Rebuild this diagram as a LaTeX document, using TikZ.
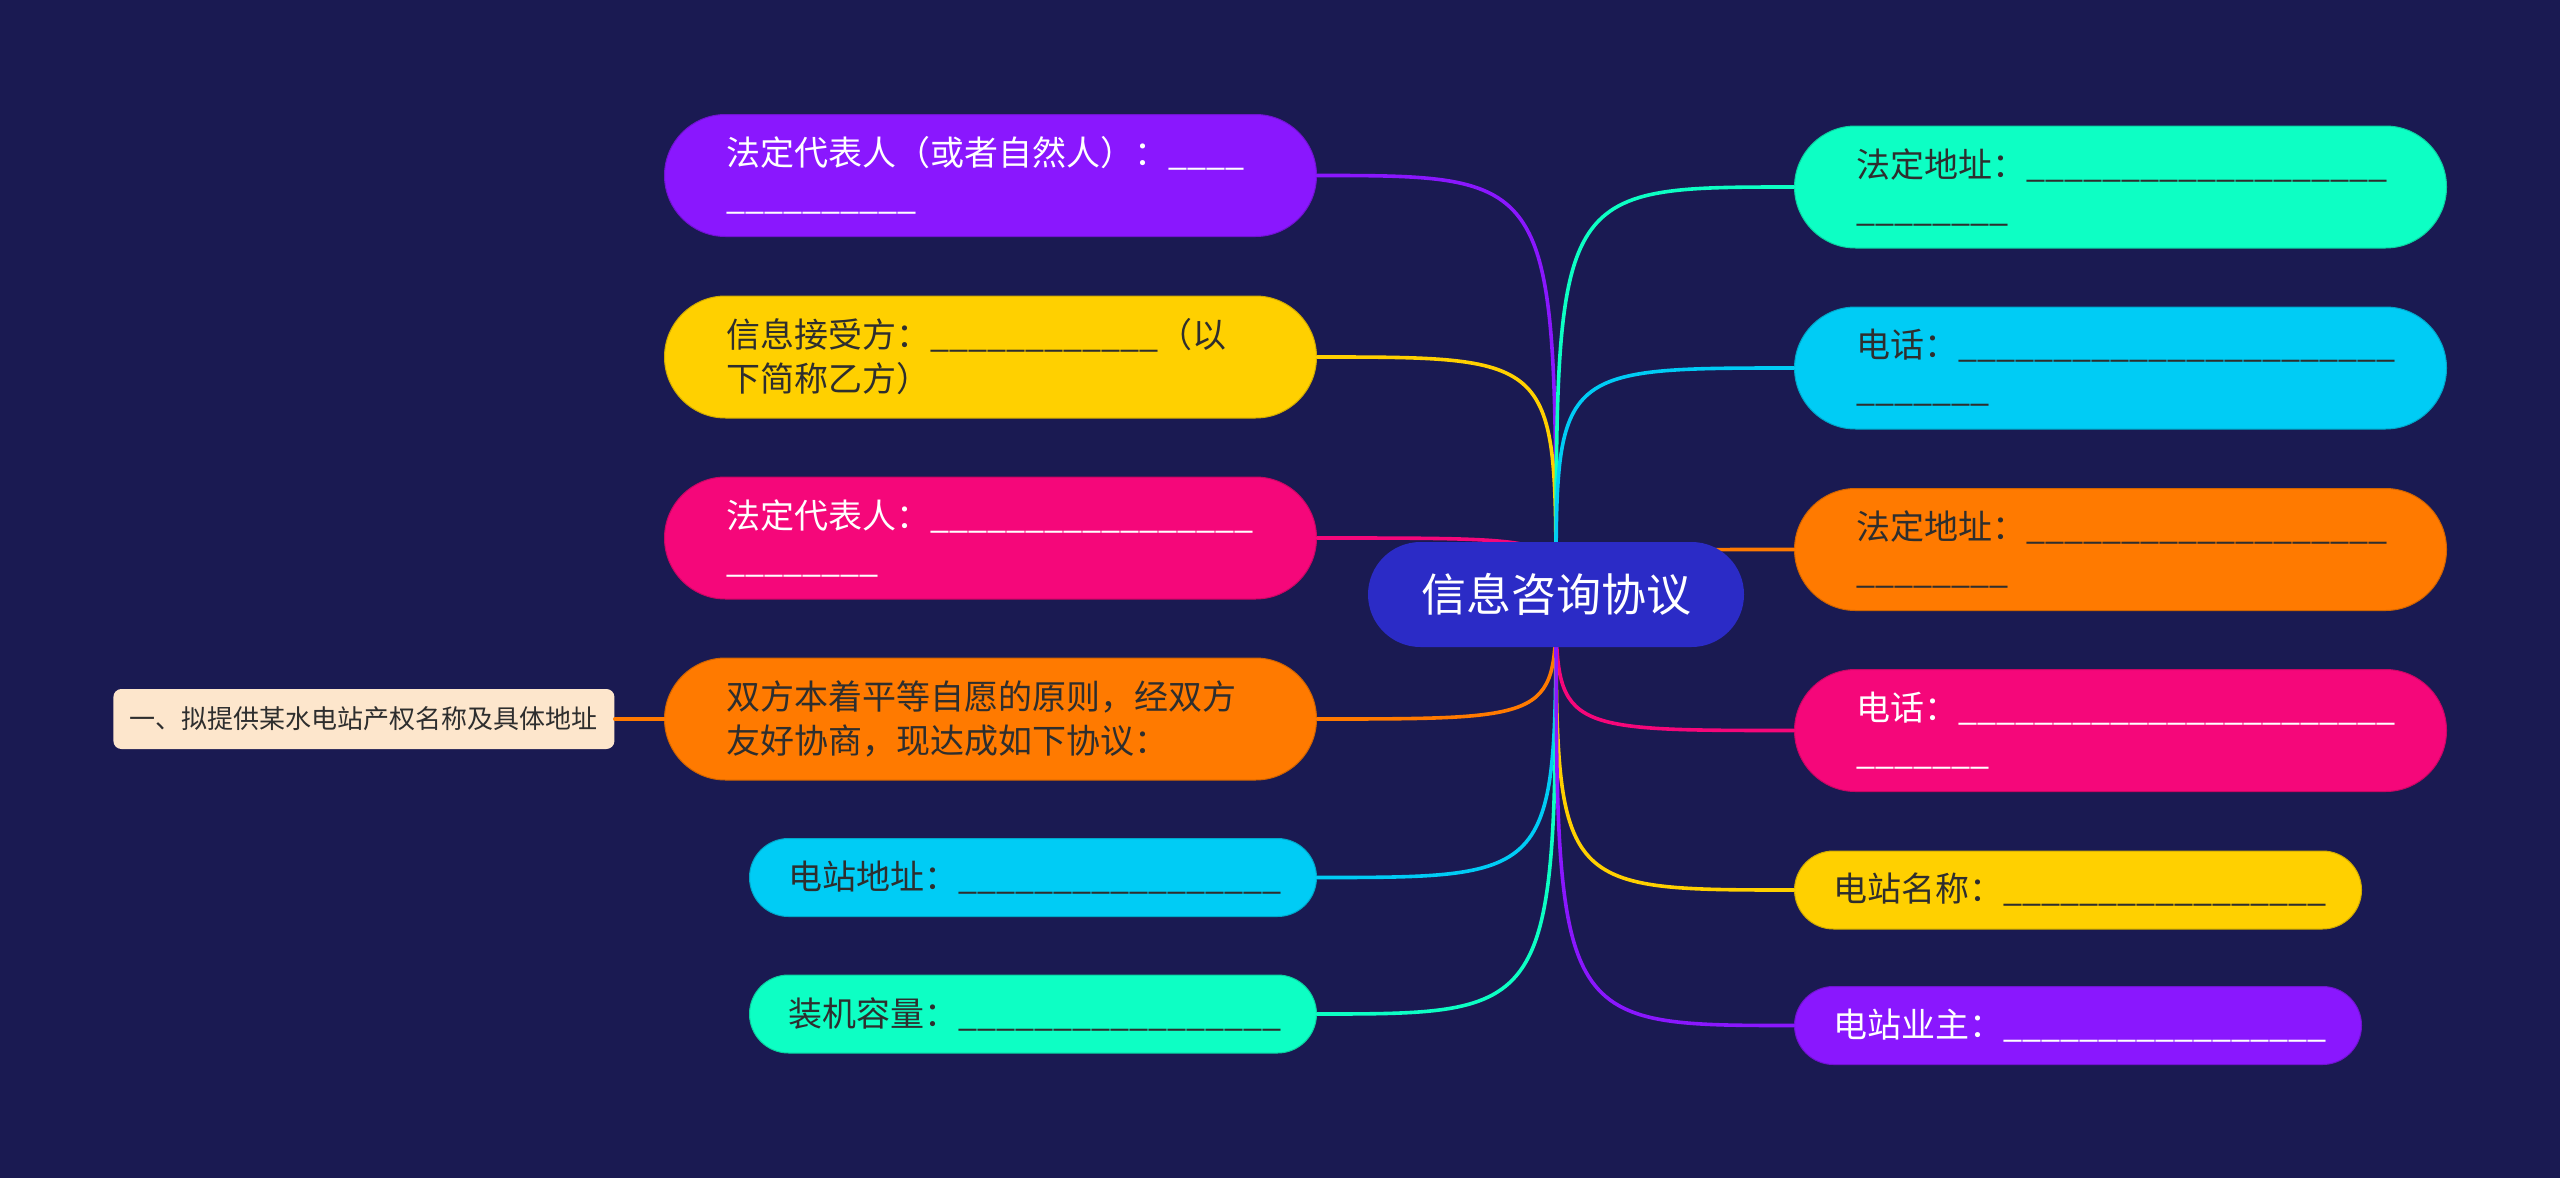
\documentclass[tikz,border=0pt]{standalone}
\usepackage{fontspec}
\setmainfont{Noto Sans CJK SC}
\definecolor{mapbg}{HTML}{1A1A52}
\definecolor{mmhub}{HTML}{2B2BC6}
\definecolor{mmpurple}{HTML}{8A17FE}
\definecolor{mmyellow}{HTML}{FFD000}
\definecolor{mmpink}{HTML}{F5077A}
\definecolor{mmorange}{HTML}{FF7A00}
\definecolor{mmcyan}{HTML}{00CCF5}
\definecolor{mmgreen}{HTML}{0DFFC4}
\definecolor{mmnote}{HTML}{FDE6CC}
\definecolor{mmtext}{HTML}{2E2E2E}
\newcommand{\fillin}[1]{\foreach \k in {1,...,#1}{\_}}

\begin{document}
\begin{tikzpicture}[
  x=0.5pt,
  y=-0.5pt,
  line cap=round,
  hub/.style={rectangle,rounded corners=26.25pt,fill=mmhub,text=white,
    minimum width=188pt,minimum height=52.5pt,inner sep=0pt,
    font=\fontsize{22.5pt}{27pt}\selectfont},
  topic/.style 2 args={rectangle,rounded corners=30.5pt,fill=#1,draw=#1!82!black,
    line width=0.5pt,text=#2,anchor=west,minimum height=61pt,inner xsep=31pt,
    inner ysep=0pt,text width=264pt,align=left,
    font=\fontsize{17pt}{22pt}\selectfont},
  leaf/.style 2 args={rectangle,rounded corners=19.5pt,fill=#1,draw=#1!82!black,
    line width=0.5pt,text=#2,anchor=west,minimum height=39pt,inner xsep=19.5pt,
    inner ysep=0pt,text width=244.5pt,align=left,
    font=\fontsize{17pt}{22pt}\selectfont},
  note/.style={rectangle,rounded corners=4pt,fill=mmnote,text=mmtext,anchor=west,
    minimum width=250.5pt,minimum height=30pt,inner sep=0pt,
    font=\fontsize{13pt}{16pt}\selectfont},
  link/.style={draw=#1,line width=1.8pt}
]
  % Dark page, sized like the exported map.
  \path[use as bounding box,fill=mapbg] (0,0) rectangle (2560,1178);

  \coordinate (hubc) at (1556,594.5);

  % Left-hand branches.
  \node[topic={mmpurple}{white}] (lowner) at (664,175.5) {法定代表人（或者自然人）：\fillin{4}\\\fillin{10}};
  \node[topic={mmyellow}{mmtext}] (lrecv) at (664,357) {信息接受方：\fillin{12}（以\\下简称乙方）};
  \node[topic={mmpink}{white}] (lrep) at (664,538) {法定代表人：\fillin{17}\\\fillin{8}};
  \node[topic={mmorange}{mmtext}] (lagree) at (664,719) {双方本着平等自愿的原则，经双方\\友好协商，现达成如下协议：};
  \node[leaf={mmcyan}{mmtext}] (laddr) at (749,877.5) {电站地址：\fillin{17}};
  \node[leaf={mmgreen}{mmtext}] (lcap) at (749,1014) {装机容量：\fillin{17}};

  % Right-hand branches.
  \node[topic={mmgreen}{mmtext}] (raddra) at (1794,187) {法定地址：\fillin{19}\\\fillin{8}};
  \node[topic={mmcyan}{mmtext}] (rtela) at (1794,368) {电话：\fillin{23}\\\fillin{7}};
  \node[topic={mmorange}{mmtext}] (raddrb) at (1794,549.5) {法定地址：\fillin{19}\\\fillin{8}};
  \node[topic={mmpink}{white}] (rtelb) at (1794,730.5) {电话：\fillin{23}\\\fillin{7}};
  \node[leaf={mmyellow}{mmtext}] (rname) at (1794,890) {电站名称：\fillin{17}};
  \node[leaf={mmpurple}{white}] (rowner) at (1794,1025.5) {电站业主：\fillin{17}};

  % Detached item hanging off the agreement branch.
  \node[note] (item) at (113,719) {一、拟提供某水电站产权名称及具体地址};
  \draw[link=mmorange] (item.east) -- (lagree.west);

  % Curved branches leave the hub vertically and meet each topic level.
  \foreach \n/\c in {lowner/mmpurple,lrecv/mmyellow,lrep/mmpink,lagree/mmorange,
                     laddr/mmcyan,lcap/mmgreen} {
    \draw[link=\c] (hubc) .. controls (hubc |- \n.east) .. (\n.east);
  }
  \foreach \n/\c in {raddra/mmgreen,rtela/mmcyan,raddrb/mmorange,rtelb/mmpink,
                     rname/mmyellow,rowner/mmpurple} {
    \draw[link=\c] (hubc) .. controls (hubc |- \n.west) .. (\n.west);
  }

  % Hub goes last so it covers the branch roots.
  \node[hub] (hub) at (hubc) {信息咨询协议};
\end{tikzpicture}
\end{document}
